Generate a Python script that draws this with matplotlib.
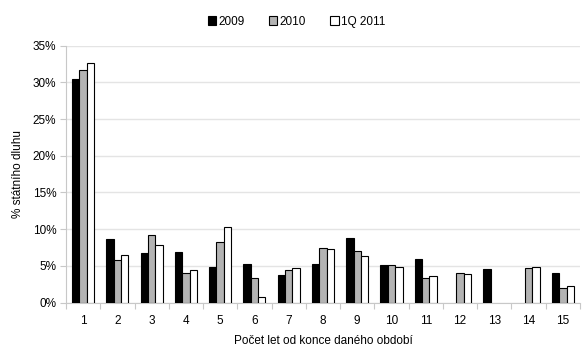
import matplotlib
matplotlib.use("Agg")
import matplotlib.pyplot as plt
import numpy as np
from matplotlib.ticker import FixedLocator, PercentFormatter

plt.rcParams['font.family'] = ['Liberation Sans', 'DejaVu Sans']

categories = [str(i) for i in range(1, 16)]
s2009 = [30.5, 8.7, 6.7, 6.9, 4.9, 5.3, 3.7, 5.2, 8.8, 5.1, 5.9, 0.0, 4.6, 0.0, 4.0]
s2010 = [31.7, 5.8, 9.2, 4.1, 8.2, 3.3, 4.4, 7.5, 7.0, 5.1, 3.3, 4.0, 0.0, 4.7, 2.0]
s2011 = [32.6, 6.5, 7.9, 4.5, 10.35, 0.7, 4.7, 7.3, 6.4, 4.9, 3.6, 3.9, 0.0, 4.9, 2.3]
series_names = ["2009", "2010", "1Q 2011"]
colors = ["#000000", "#b3b3b3", "#ffffff"]

fig = plt.figure(figsize=(5.87, 3.59), dpi=100)
ax = fig.add_axes([0.1124, 0.157, 0.8756, 0.716])

x = np.arange(1, 16)
w = 0.215
for i, (vals, name, c) in enumerate(zip([s2009, s2010, s2011], series_names, colors)):
    vals = np.array(vals)
    mask = vals > 0
    ax.bar(x[mask] + (i - 1) * w, vals[mask], width=w, color=c, edgecolor="#000000",
           linewidth=0.8, label=name, zorder=3)

ax.set_xlim(0.5, 15.5)
ax.set_ylim(0, 35)
ax.set_yticks(np.arange(0, 36, 5))
ax.yaxis.set_major_formatter(PercentFormatter(decimals=0))
ax.set_xticks(x)
ax.set_xticklabels(categories)
ax.xaxis.set_minor_locator(FixedLocator(np.arange(0.5, 15.6, 1)))
ax.tick_params(axis='x', which='major', length=0, pad=9, labelsize=8.5)
ax.tick_params(axis='x', which='minor', length=4, color="#c8c8c8", width=0.8)
ax.tick_params(axis='y', length=4, color="#c8c8c8", width=0.8, labelsize=8.5, pad=3)

ax.grid(axis='y', color="#e4e4e4", linewidth=1.0, zorder=0)
for s in ['top', 'right']:
    ax.spines[s].set_visible(False)
for s in ['left', 'bottom']:
    ax.spines[s].set_color("#c8c8c8")
    ax.spines[s].set_linewidth(0.8)

ax.set_ylabel("% státního dluhu", fontsize=8.5, labelpad=6)
ax.set_xlabel("Počet let od konce daného období", fontsize=8.5, labelpad=6)

fig.legend(loc='center', bbox_to_anchor=(0.505, 0.94), ncol=3, frameon=False,
           fontsize=8.5, handlelength=0.75, handleheight=0.75, handletextpad=0.2,
           columnspacing=2.0)

fig.savefig("out.png", dpi=100)
